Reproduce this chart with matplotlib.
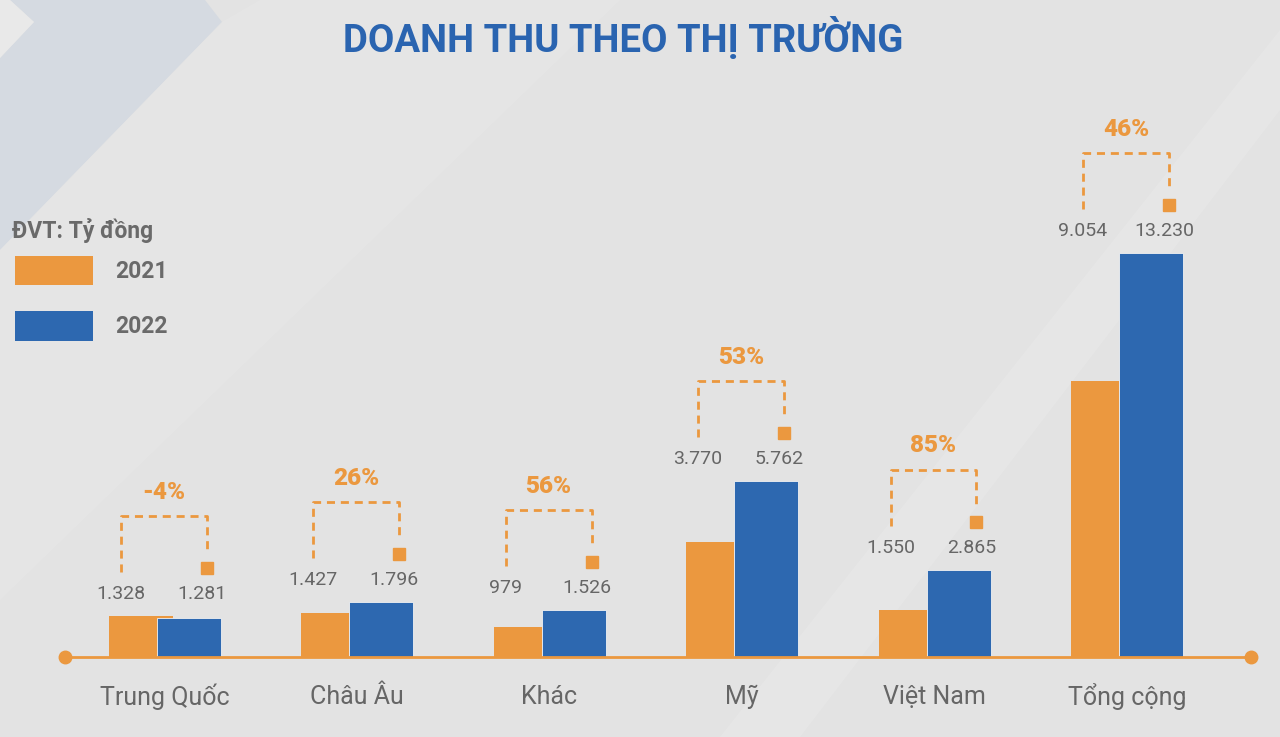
import numpy as np
import matplotlib.pyplot as plt
from matplotlib.patches import Polygon, Rectangle

plt.rcParams['font.family'] = ['Roboto', 'DejaVu Sans']

# Data (ĐVT: Tỷ đồng)
categories = ['Trung Quốc', 'Châu Âu', 'Khác', 'Mỹ', 'Việt Nam', 'Tổng cộng']
rev_2021 = [1328, 1427, 979, 3770, 1550, 9054]
rev_2022 = [1281, 1796, 1526, 5762, 2865, 13230]
growth = ['-4%', '26%', '56%', '53%', '85%', '46%']

ORANGE = '#eb983f'
BLUE = '#2d68b0'
GRAY = '#666666'
BG = '#e3e3e3'

W, H = 1280, 737
fig = plt.figure(figsize=(W / 100, H / 100), dpi=100)
fig.patch.set_facecolor(BG)

# background layer in pixel coords
bg = fig.add_axes([0, 0, 1, 1], zorder=0)
bg.set_xlim(0, W)
bg.set_ylim(H, 0)
bg.axis('off')
bg.add_patch(Polygon([(10, 0), (205, 0), (222, 22), (0, 250), (0, 58), (34, 22)],
                     closed=True, color='#d5dae1', lw=0))
bg.add_patch(Polygon([(0, 0), (10, 0), (34, 22), (0, 58)],
                     closed=True, color='#e9e9e9', lw=0))
bg.add_patch(Polygon([(222, 22), (260, 0), (620, 0), (0, 600), (0, 250)],
                     closed=True, color='#e7e7e7', lw=0, alpha=0.6))
bg.add_patch(Polygon([(1280, 30), (1280, 110), (800, 737), (720, 737)],
                     closed=True, color='#e8e8e8', lw=0, alpha=0.7))

# title
bg.text(623, 38, 'DOANH THU THEO THỊ TRƯỜNG', ha='center', va='center',
        fontsize=27.5, fontweight='bold', color='#2a64b0')

# legend
bg.text(12, 230, 'ĐVT: Tỷ đồng', ha='left', va='center', fontsize=16.5,
        fontweight='bold', color='#6a6a6a')
bg.add_patch(Rectangle((15, 256), 78, 29, color=ORANGE, lw=0))
bg.add_patch(Rectangle((15, 311), 78, 30, color=BLUE, lw=0))
bg.text(115, 271, '2021', ha='left', va='center', fontsize=16.5,
        fontweight='bold', color='#6a6a6a')
bg.text(115, 326, '2022', ha='left', va='center', fontsize=16.5,
        fontweight='bold', color='#6a6a6a')

# main chart axes: baseline at y=657 px, top at y=100 px
base_px, top_px = 657, 100
ax = fig.add_axes([0, (H - base_px) / H, 1, (base_px - top_px) / H], zorder=1)
ax.patch.set_alpha(0)
ax.axis('off')

x0_px, step_px = 156.5, 192.5
ax.set_xlim(-x0_px / step_px, (W - x0_px) / step_px)
ymax = max(rev_2022) * (base_px - top_px) / 404
ax.set_ylim(0, ymax)


def dx(p):
    return p / step_px


def dy(p):
    return p * ymax / (base_px - top_px)


x = np.arange(len(categories))
w21 = [dx(64)] + [dx(48)] * (len(categories) - 1)
ax.bar(x - dx(48), rev_2021, width=w21, align='edge', color=ORANGE, zorder=2)
ax.bar(x, rev_2022, width=dx(64), align='edge', color=BLUE,
       edgecolor='#f2f2f2', linewidth=0.6, zorder=2)

# baseline with end dots
ax.plot([dx(65 - x0_px), dx(1251 - x0_px)], [0, 0], color=ORANGE, lw=2,
        marker='o', markersize=9, clip_on=False, zorder=3)

for i, (a, b, g) in enumerate(zip(rev_2021, rev_2022, growth)):
    ly = max(a, b) + dy(22)
    lx, rx = i - dx(36), i + dx(50)
    ax.text(lx, ly, f'{a:,}'.replace(',', '.'), ha='center', va='center',
            fontsize=14, color=GRAY)
    ax.text(rx - dx(5), ly, f'{b:,}'.replace(',', '.'), ha='center', va='center',
            fontsize=14, color=GRAY)
    top = ly + dy(78)
    ax.plot([lx, lx, rx, rx], [ly + dy(22), top, top, ly + dy(40)],
            color=ORANGE, lw=2, linestyle=(0, (2.9, 2.1)), clip_on=False)
    ax.plot(rx, ly + dy(26), marker='s', markersize=9, color=ORANGE,
            clip_on=False)
    ax.text((lx + rx) / 2, ly + dy(102), g, ha='center', va='center',
            fontsize=17.5, fontweight=900, color=ORANGE)
    ax.text(i + dx(8), -dy(40), categories[i], ha='center', va='center',
            fontsize=18, color=GRAY, clip_on=False)

plt.savefig('out.png', dpi=100, facecolor=BG)
